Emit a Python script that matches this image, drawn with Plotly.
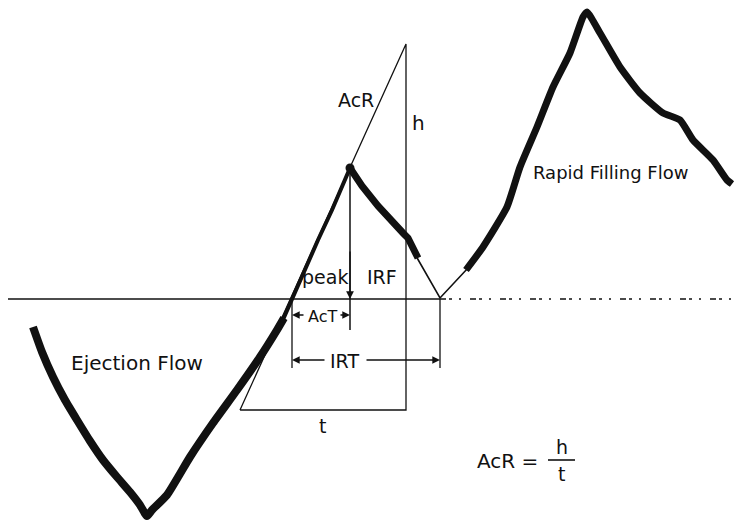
import plotly.graph_objects as go

# waveform traced from the recording (pixel-like coordinates, y grows downward)
eject_x = [33, 42, 53, 65, 77, 90, 103, 117, 130, 140, 147, 152, 167, 190, 213, 237, 260, 277, 284]
eject_y = [327, 352, 377, 400, 420, 441, 460, 477, 492, 505, 516, 510, 495, 457, 423, 390, 357, 330, 318]
rise_x = [282, 292, 305, 318, 332, 343, 350]
rise_y = [322, 299, 270, 240, 210, 184, 168]
fall_x = [350, 362, 378, 395, 403, 408, 414, 418]
fall_y = [168, 186, 206, 226, 233, 238, 250, 258]
tail_x = [416, 440, 468]
tail_y = [256, 298, 268]
fill_x = [466, 483, 507, 520, 537, 553, 570, 583, 587, 600, 620, 640, 663, 680, 693, 713, 727, 732]
fill_y = [270, 247, 207, 167, 127, 87, 53, 17, 12, 33, 67, 93, 113, 120, 140, 160, 180, 184]

# construction lines
base_y = 299
base_solid = [8, 440]
base_dashed = [440, 737]
tri_x = [240, 406, 406, 240]
tri_y = [410, 44, 410, 410]
peak = (350, 168)
cross_x = 292
end_x = 440
act_y = 315
irt_y = 360

labels = [
    ("AcR", 356, 100, 19),
    ("h", 418, 123, 20),
    ("Rapid Filling Flow", 610, 172, 18),
    ("Ejection Flow", 137, 363, 20),
    ("peak", 325, 277, 19),
    ("IRF", 382, 277, 19),
    ("AcT", 322, 316, 16),
    ("IRT", 344, 361, 19),
    ("t", 322, 426, 19),
]

ink = "#111111"
font = "DejaVu Sans"
fig = go.Figure()

fig.add_trace(go.Scatter(x=base_solid, y=[base_y, base_y], mode="lines", line=dict(color=ink, width=1.6)))
fig.add_trace(go.Scatter(x=base_dashed, y=[base_y, base_y], mode="lines", line=dict(color=ink, width=1.6, dash="6px,3px,3px,7px,2px,9px")))
fig.add_trace(go.Scatter(x=tri_x, y=tri_y, mode="lines", line=dict(color=ink, width=1.3)))

# noisy trace drawn as thick bands
fig.add_trace(go.Scatter(x=eject_x, y=eject_y, mode="lines", line=dict(color=ink, width=8, shape="spline", smoothing=0.5)))
fig.add_trace(go.Scatter(x=rise_x, y=rise_y, mode="lines", line=dict(color=ink, width=4)))
fig.add_trace(go.Scatter(x=fall_x, y=fall_y, mode="lines", line=dict(color=ink, width=7)))
fig.add_trace(go.Scatter(x=tail_x, y=tail_y, mode="lines", line=dict(color=ink, width=1.6)))
fig.add_trace(go.Scatter(x=fill_x, y=fill_y, mode="lines", line=dict(color=ink, width=7, shape="spline", smoothing=0.5)))
fig.add_trace(go.Scatter(x=[peak[0]], y=[peak[1]], mode="markers", marker=dict(color=ink, size=9)))

# vertical markers
fig.add_trace(go.Scatter(x=[peak[0], peak[0]], y=[peak[1], 330], mode="lines", line=dict(color=ink, width=1.5)))
fig.add_trace(go.Scatter(x=[cross_x, cross_x], y=[base_y, 368], mode="lines", line=dict(color=ink, width=1.3)))
fig.add_trace(go.Scatter(x=[end_x, end_x], y=[base_y, 368], mode="lines", line=dict(color=ink, width=1.3)))

ann = []
for txt, x, y, s in labels:
    ann.append(dict(x=x, y=y, text=txt, showarrow=False, font=dict(family=font, size=s, color=ink)))


def arrow(x, y, ax, ay):
    return dict(x=x, y=y, ax=ax, ay=ay, xref="x", yref="y", axref="x", ayref="y", text="",
                showarrow=True, arrowhead=2, arrowsize=1.1, arrowwidth=1.4, arrowcolor=ink)


ann += [
    arrow(peak[0], base_y, peak[0], 250),
    arrow(cross_x, act_y, 305, act_y),
    arrow(peak[0], act_y, 339, act_y),
    arrow(cross_x, irt_y, 326, irt_y),
    arrow(end_x, irt_y, 365, irt_y),
]

# formula AcR = h/t
ann += [
    dict(x=507, y=461, text="AcR =", showarrow=False, font=dict(family=font, size=20, color=ink)),
    dict(x=562, y=447, text="h", showarrow=False, font=dict(family=font, size=19, color=ink)),
    dict(x=561, y=474, text="t", showarrow=False, font=dict(family=font, size=19, color=ink)),
]
fig.add_trace(go.Scatter(x=[548, 575], y=[460, 460], mode="lines", line=dict(color=ink, width=1.6)))

fig.update_layout(
    width=737, height=529, margin=dict(l=0, r=0, t=0, b=0),
    paper_bgcolor="white", plot_bgcolor="white", showlegend=False,
    annotations=ann,
)
fig.update_xaxes(range=[0, 737], visible=False)
fig.update_yaxes(range=[529, 0], visible=False)

fig.write_html("out.html", config={"displayModeBar": False})

# drop the default page margin so the figure sits at the window origin
with open("out.html") as f:
    page = f.read()
page = page.replace("<body>", '<body style="margin:0">', 1)
with open("out.html", "w") as f:
    f.write(page)
